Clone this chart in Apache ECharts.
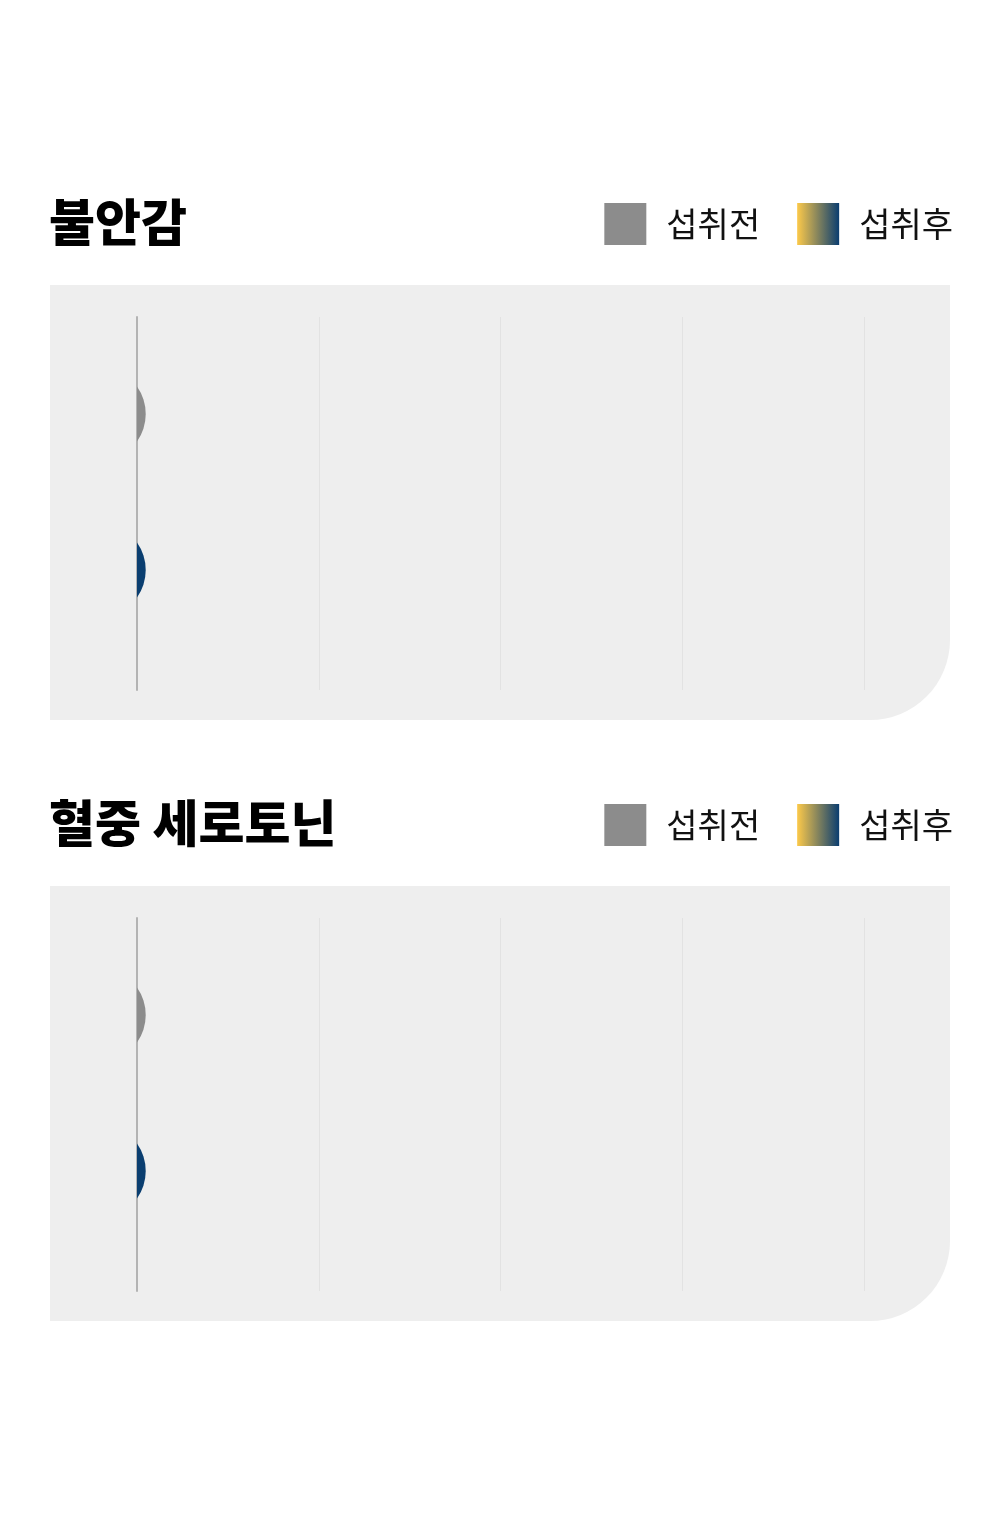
<!DOCTYPE html>
<html>
<head>
<meta charset="utf-8">
<script src="https://cdn.jsdelivr.net/npm/echarts@6/dist/echarts.min.js"></script>
<style>
  html, body { margin: 0; padding: 0; background: #ffffff; }
  #container { width: 1000px; height: 1522px; }
</style>
</head>
<body>
<div id="container"></div>
<script>
var dom = document.getElementById("container");
var myChart = echarts.init(dom);

// 데이터
var metrics = ['불안감', '혈중 세로토닌'];     // 패널 제목
var seriesNames = ['섭취전', '섭취후'];         // 범례
var beforeValues = [1.2, 1.2];                  // 섭취전
var afterValues = [1.2, 1.2];                   // 섭취후
var axisMax = 100,
    tickStep = 25;

var panelTop = [285, 886];                      // 패널 위치
var fontKR = "'Noto Sans CJK KR', 'Noto Sans', sans-serif";

var afterGradient = new echarts.graphic.LinearGradient(0, 0, 1, 0, [
    {offset: 0, color: '#fcc94a'},
    {offset: 1, color: '#0a3d70'}
]);
// 반원 모양 막대
var lensPath = 'path://M0,0 A46.5,46.5 0 0 1 0,55 Z';

var grids = [], xAxes = [], yAxes = [], series = [], titles = [], legends = [], shapes = [];

metrics.forEach(function (name, i) {
    var top = panelTop[i];

    shapes.push({
        type: 'rect',
        z: -10,
        shape: {x: 50, y: top, width: 900, height: 435, r: [0, 0, 80, 0]},
        style: {fill: '#eeeeee'}
    });

    titles.push({
        text: name,
        left: 49,
        top: top - 88,
        padding: 0,
        textStyle: {fontFamily: fontKR, fontSize: 50, fontWeight: 900, color: '#000'}
    });

    legends.push({
        data: seriesNames,
        right: 47,
        top: top - 82,
        padding: 0,
        icon: 'rect',
        itemWidth: 42,
        itemHeight: 42,
        itemGap: 37,
        selectedMode: false,
        textStyle: {fontFamily: fontKR, fontSize: 34, color: '#111', padding: [0, 0, 0, 15]}
    });

    // 축, 격자선
    grids.push({left: 137, right: 136, top: top + 32, height: 373});
    xAxes.push({
        gridIndex: i * 2, type: 'value', min: 0, max: axisMax, interval: tickStep,
        axisLine: {show: false}, axisTick: {show: false}, axisLabel: {show: false},
        splitLine: {lineStyle: {color: '#e2e2e2', width: 1}}
    });
    yAxes.push({
        gridIndex: i * 2, type: 'category', data: [name],
        axisLine: {lineStyle: {color: '#b3b3b3', width: 2}},
        axisTick: {show: false}, axisLabel: {show: false}
    });

    // 막대
    grids.push({left: 137, right: 136, top: top + 32, height: 350});
    xAxes.push({gridIndex: i * 2 + 1, type: 'value', min: 0, max: axisMax, show: false});
    yAxes.push({gridIndex: i * 2 + 1, type: 'category', data: [name], show: false});

    series.push({
        name: seriesNames[0],
        type: 'pictorialBar',
        xAxisIndex: i * 2 + 1,
        yAxisIndex: i * 2 + 1,
        symbol: lensPath,
        symbolSize: ['100%', '100%'],
        symbolPosition: 'start',
        barWidth: 55,
        barGap: '183.6%',
        itemStyle: {color: '#8c8c8c'},
        data: [beforeValues[i]]
    });
    series.push({
        name: seriesNames[1],
        type: 'pictorialBar',
        xAxisIndex: i * 2 + 1,
        yAxisIndex: i * 2 + 1,
        symbol: lensPath,
        symbolSize: ['100%', '100%'],
        symbolPosition: 'start',
        barWidth: 55,
        barGap: '183.6%',
        itemStyle: {color: afterGradient},
        data: [{value: afterValues[i], itemStyle: {color: '#0a3e70'}}]
    });
});

option = {
    animation: false,
    backgroundColor: '#ffffff',
    title: titles,
    legend: legends,
    grid: grids,
    xAxis: xAxes,
    yAxis: yAxes,
    graphic: {elements: shapes},
    series: series
};

myChart.setOption(option, true);
</script>
</body>
</html>
